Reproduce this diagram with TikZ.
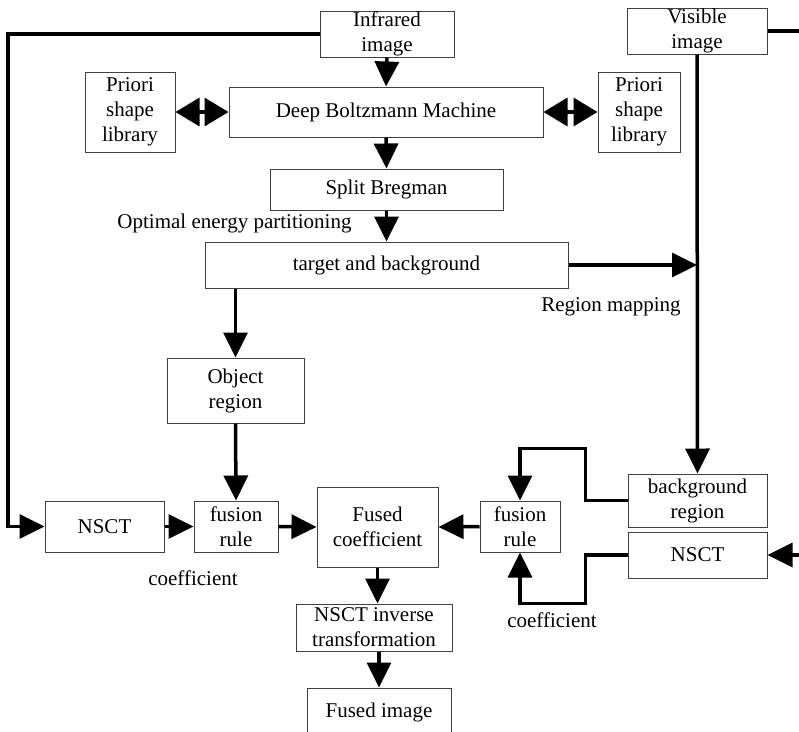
\documentclass[tikz,border=0pt]{standalone}
\usepackage{fontspec}
\setmainfont{Liberation Serif}
\usetikzlibrary{arrows.meta,calc}
\begin{document}
\begin{tikzpicture}[>={Triangle[width=24pt,length=25pt]}, x=1pt, y=-1pt,
    box/.style={draw=black!75, line width=1pt, align=center, inner sep=0pt,
      font=\fontsize{21pt}{25pt}\selectfont},
    lbl/.style={inner sep=0pt, font=\fontsize{21pt}{25pt}\selectfont},
    conn/.style={line width=3.5pt, ->},
    both/.style={line width=3.5pt, {Triangle[width=28pt,length=24pt]}-{Triangle[width=28pt,length=24pt]}}]
  \useasboundingbox (0,0) rectangle (799,731);
  \clip (0,0) rectangle (799,731);
  % boxes
  \node[box, minimum width=134pt, minimum height=46pt] (ir) at (387,34) {Infrared\\image};
  \node[box, minimum width=140pt, minimum height=46pt] (vis) at (697,31) {Visible\\image};
  \node[box, minimum width=90pt, minimum height=80pt] (pl) at (130,112) {Priori\\shape\\library};
  \node[box, minimum width=82pt, minimum height=80pt] (pr) at (639,112) {Priori\\shape\\library};
  \node[box, minimum width=314pt, minimum height=50pt] (dbm) at (386,112) {Deep Boltzmann Machine};
  \node[box, minimum width=233pt, minimum height=41pt] (sb) at (386.5,189.5) {Split Bregman};
  \node[box, minimum width=363pt, minimum height=46pt] (tb) at (386.5,265) {target and background};
  \node[box, minimum width=137pt, minimum height=65pt] (obj) at (235.5,390.5) {Object\\region};
  \node[box, minimum width=119pt, minimum height=51pt] (nl) at (104.5,526.5) {NSCT};
  \node[box, minimum width=84pt, minimum height=51pt] (fl) at (236,526.5) {fusion\\rule};
  \node[box, minimum width=121pt, minimum height=80pt] (fc) at (377.5,527) {Fused\\coefficient};
  \node[box, minimum width=80pt, minimum height=51pt] (fr) at (520,526.5) {fusion\\rule};
  \node[box, minimum width=139pt, minimum height=53pt] (bg) at (697.5,500.5) {background\\region};
  \node[box, minimum width=139pt, minimum height=46pt] (nr) at (697.5,555) {NSCT};
  \node[box, minimum width=156pt, minimum height=47pt] (inv) at (374,627.5) {NSCT inverse\\transformation};
  \node[box, minimum width=144pt, minimum height=56pt, text depth=12pt] (fi) at (379,716) {Fused image};
  % labels
  \node[lbl] (opt) at (234.5,223) {Optimal energy partitioning};
  \node[lbl] (rmap) at (611,307) {Region mapping};
  \node[lbl] (coefl) at (193,578) {coefficient};
  \node[lbl] (coefr) at (552,620) {coefficient};
  % rails
  \coordinate (lrail) at (8,526.5);
  \coordinate (visout) at (799,31);
  \coordinate (nrin) at (799,555);
  % connectors
  \draw[conn] (ir.west) -| (lrail) -- (nl.west);
  \draw[conn] (ir.south) -- (dbm.north);
  \draw[both] (pl.east) -- (dbm.west);
  \draw[both] (dbm.east) -- (pr.west);
  \draw[conn] (dbm.south) -- (sb.north);
  \draw[conn] (sb.south) -- (tb.north);
  \draw[conn] (vis.south) -- (bg.north);
  \draw[line width=3.5pt] (vis.east) -- (visout);
  \draw[conn] (tb.east) -- (tb.east -| vis.south);
  \draw[conn] (obj.north |- tb.south) -- (obj.north);
  \draw[conn] (obj.south) -- (fl.north);
  \draw[conn] (nl.east) -- (fl.west);
  \draw[conn] (fl.east) -- (fc.west);
  \draw[conn] (fr.west) -- (fc.east);
  \draw[conn] (bg.west) -- ++(-42,0) |- ($(fr.north)+(0,-52)$) -- (fr.north);
  \draw[conn] (nr.west) -- ++(-42,0) |- ($(fr.south)+(0,51)$) -- (fr.south);
  \draw[conn] (nrin) -- (nr.east);
  \draw[conn] (fc.south) -- (fc.south |- inv.north);
  \draw[conn] (fi.north |- inv.south) -- (fi.north);
\end{tikzpicture}
\end{document}
